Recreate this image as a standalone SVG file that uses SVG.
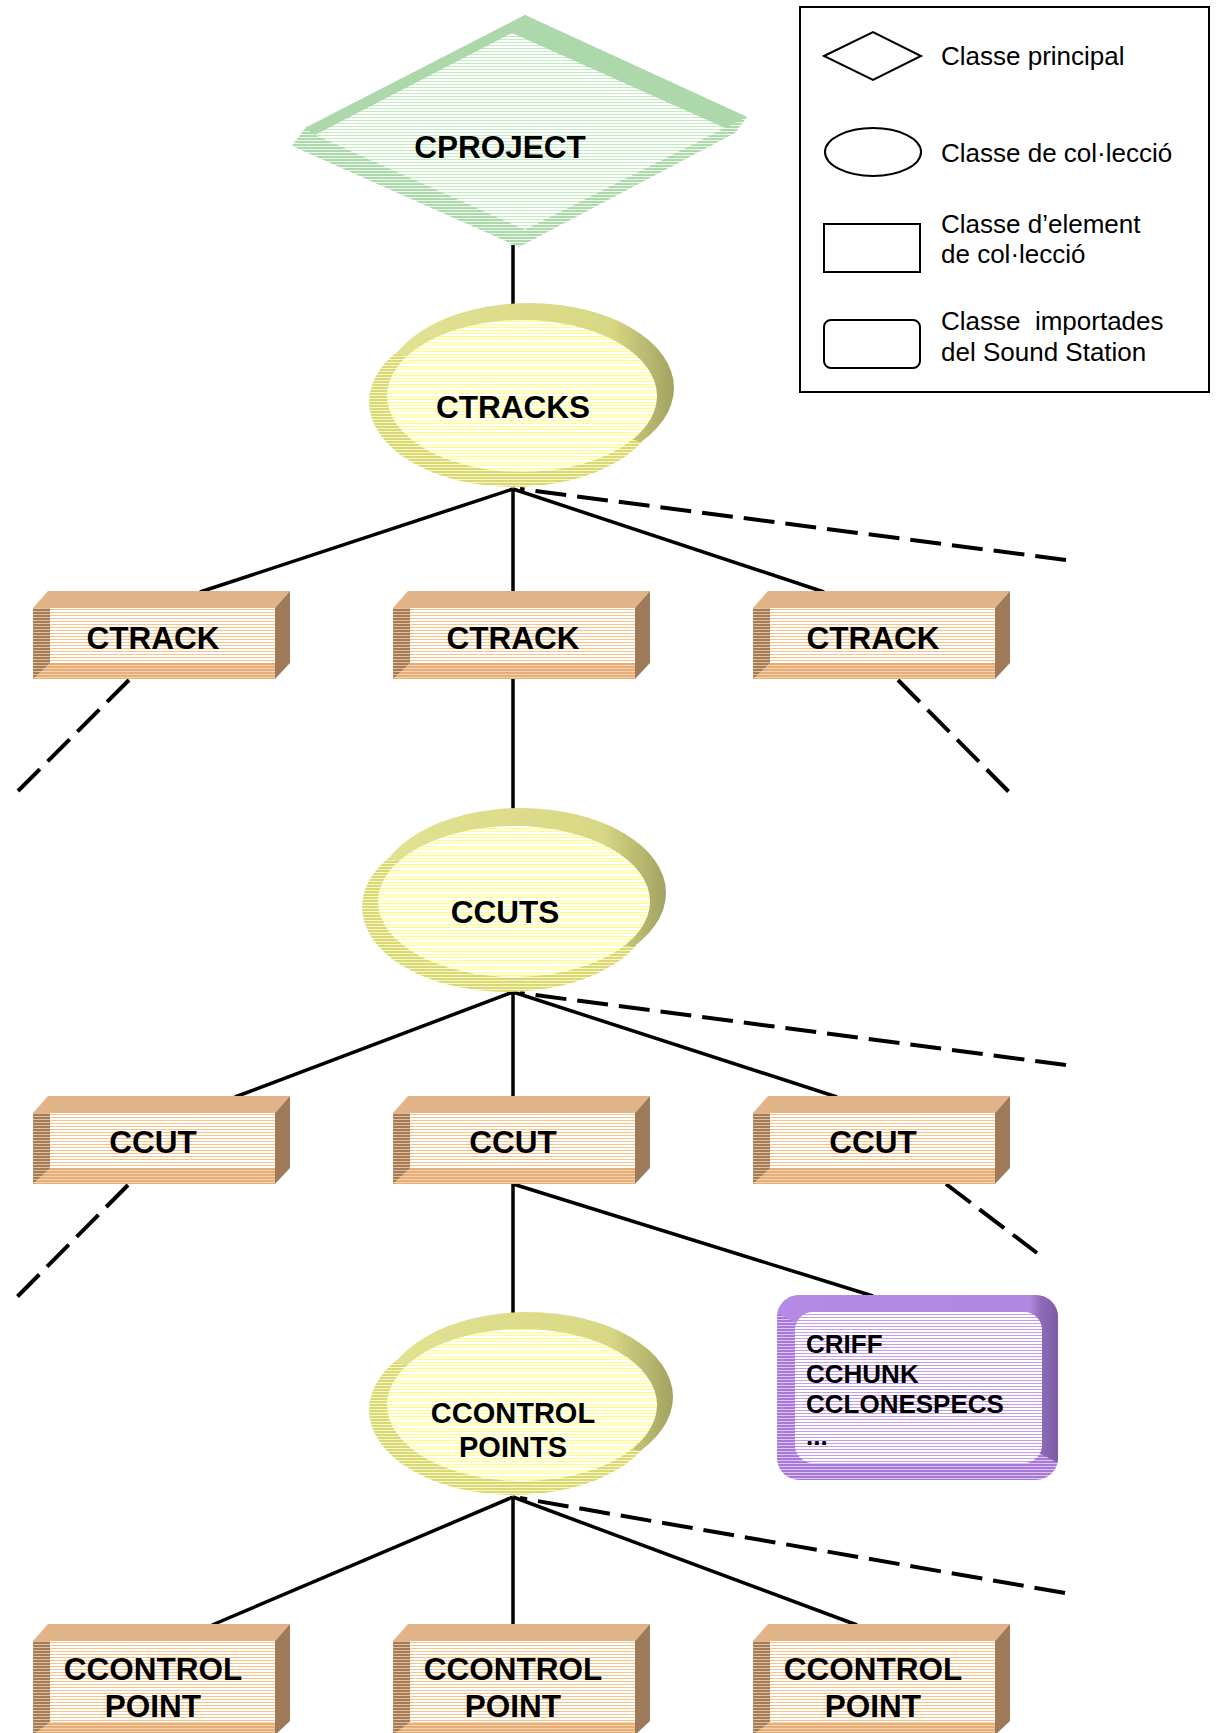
<svg xmlns="http://www.w3.org/2000/svg" width="1216" height="1733" viewBox="0 0 1216 1733">
<style>
.lbl{font-family:"Liberation Sans",Arial,sans-serif;font-weight:bold;font-size:31.5px;fill:#000;text-anchor:middle}
.lbl2{font-family:"Liberation Sans",Arial,sans-serif;font-weight:bold;font-size:29px;fill:#000;text-anchor:middle}
.crf{font-family:"Liberation Sans",Arial,sans-serif;font-weight:bold;font-size:26px;fill:#000}
.leg{font-family:"Liberation Sans",Arial,sans-serif;font-size:26px;fill:#000;white-space:pre}
.solid{stroke:#000;stroke-width:3.5;fill:none}
.dash{stroke:#000;stroke-width:4;fill:none;stroke-dasharray:31 11}
.lg{stroke:#000;stroke-width:2;fill:#fff}
</style>
<defs>
<pattern id="pTanFront" patternUnits="userSpaceOnUse" width="4" height="3"><rect width="4" height="3" fill="#fff"/><rect width="4" height="1.2" fill="#f8c288" shape-rendering="crispEdges"/></pattern>
<pattern id="pTanDark" patternUnits="userSpaceOnUse" width="4" height="3"><rect width="4" height="3" fill="#e6bc90"/><rect width="4" height="2" fill="#a07c5c" shape-rendering="crispEdges"/></pattern>
<pattern id="pTanBottom" patternUnits="userSpaceOnUse" width="4" height="3"><rect width="4" height="3" fill="#f6d2a8"/><rect width="4" height="2" fill="#e6ae7a" shape-rendering="crispEdges"/></pattern>
<pattern id="pYFront" patternUnits="userSpaceOnUse" width="4" height="3"><rect width="4" height="3" fill="#fff"/><rect width="4" height="1.2" fill="#ffff80" shape-rendering="crispEdges"/></pattern>
<pattern id="pYRim" patternUnits="userSpaceOnUse" width="4" height="3"><rect width="4" height="3" fill="#f8f8c0"/><rect width="4" height="2" fill="#d8d878" shape-rendering="crispEdges"/></pattern>
<pattern id="pGFront" patternUnits="userSpaceOnUse" width="4" height="3"><rect width="4" height="3" fill="#fff"/><rect width="4" height="1.2" fill="#c0ecc0" shape-rendering="crispEdges"/></pattern>
<pattern id="pGRim" patternUnits="userSpaceOnUse" width="4" height="3"><rect width="4" height="3" fill="#ecf8ec"/><rect width="4" height="2" fill="#acd8ac" shape-rendering="crispEdges"/></pattern>
<pattern id="pPFront" patternUnits="userSpaceOnUse" width="4" height="3"><rect width="4" height="3" fill="#fff"/><rect width="4" height="1.2" fill="#c49cf0" shape-rendering="crispEdges"/></pattern>
<pattern id="pPRim" patternUnits="userSpaceOnUse" width="4" height="3"><rect width="4" height="3" fill="#dcc4f4"/><rect width="4" height="2" fill="#a878d8" shape-rendering="crispEdges"/></pattern>
<linearGradient id="gYRim" x1="0" y1="0" x2="1" y2="0"><stop offset="0" stop-color="#e2e294"/><stop offset="0.78" stop-color="#d8d884"/><stop offset="1" stop-color="#a2a262"/></linearGradient>
<linearGradient id="gPRim" x1="0" y1="0" x2="1" y2="0"><stop offset="0" stop-color="#b48ae4"/><stop offset="0.9" stop-color="#b088e0"/><stop offset="0.94" stop-color="#8e6ab8"/><stop offset="1" stop-color="#7c5ca4"/></linearGradient>
<clipPath id="clipE" clipPathUnits="objectBoundingBox"><polygon points="0,0 1,0 1,0.891 0,0.266"/></clipPath>
<clipPath id="clipR" clipPathUnits="objectBoundingBox"><polygon points="0,0 1,0 1,0.908 0,0.096"/></clipPath>
<g id="box1">
<polygon points="0,17 15,0 257,0 242,17" fill="#e0b488"/>
<rect x="0" y="17" width="242" height="71" fill="url(#pTanFront)"/>
<rect x="0" y="17" width="17" height="71" fill="url(#pTanDark)"/>
<polygon points="0,88 17,72 242,72 242,88" fill="url(#pTanBottom)"/>
<polygon points="242,17 257,0 257,72 242,88" fill="#9c7a5a"/>
</g>
<g id="box2">
<polygon points="0,17 15,0 257,0 242,17" fill="#e0b488"/>
<rect x="0" y="17" width="242" height="94" fill="url(#pTanFront)"/>
<rect x="0" y="17" width="17" height="94" fill="url(#pTanDark)"/>
<polygon points="0,111 17,98 242,98 242,111" fill="url(#pTanBottom)"/>
<polygon points="242,17 257,0 257,97 242,111" fill="#9c7a5a"/>
</g>
</defs>
<rect width="1216" height="1733" fill="#fff"/>

<g id="connectors">
<line class="solid" x1="513" y1="245" x2="513" y2="306"/>
<line class="solid" x1="513" y1="489" x2="200" y2="592"/>
<line class="solid" x1="513" y1="489" x2="513" y2="592"/>
<line class="solid" x1="513" y1="489" x2="824" y2="592"/>
<line class="dash" x1="1066" y1="560" x2="520" y2="489"/>
<line class="dash" x1="129" y1="680" x2="18" y2="791"/>
<line class="dash" x1="898" y1="680" x2="1009" y2="792"/>
<line class="solid" x1="513" y1="679" x2="513" y2="810"/>
<line class="solid" x1="513" y1="992" x2="235" y2="1097"/>
<line class="solid" x1="513" y1="992" x2="513" y2="1097"/>
<line class="solid" x1="513" y1="992" x2="837" y2="1097"/>
<line class="dash" x1="1066" y1="1065" x2="520" y2="993"/>
<line class="dash" x1="128" y1="1185" x2="17" y2="1297"/>
<line class="dash" x1="946" y1="1184" x2="1037" y2="1253"/>
<line class="solid" x1="513" y1="1184" x2="513" y2="1314"/>
<line class="solid" x1="513" y1="1184" x2="873" y2="1296"/>
<line class="solid" x1="513" y1="1497" x2="212" y2="1625"/>
<line class="solid" x1="513" y1="1497" x2="513" y2="1625"/>
<line class="solid" x1="513" y1="1497" x2="857" y2="1625"/>
<line class="dash" x1="1065" y1="1593" x2="520" y2="1498"/>
</g>

<g id="cproject">
<polygon points="525,15 747,117 735,133 519,247 292,146 305,128" fill="url(#pGRim)"/>
<polygon points="305,128 525,15 747,117 725,128 512,33 315,135" fill="#acd8ac"/>
<polygon points="512,33 725,128 525,230 315,135" fill="url(#pGFront)"/>
<text class="lbl" x="500" y="158">CPROJECT</text>
</g>

<g id="ctracks">
<ellipse cx="514" cy="402" rx="145" ry="85" fill="url(#pYRim)"/>
<ellipse cx="529" cy="388" rx="145" ry="85" fill="url(#gYRim)" clip-path="url(#clipE)"/>
<ellipse cx="522" cy="396" rx="135" ry="76" fill="url(#pYFront)"/>
<text class="lbl" x="513" y="418">CTRACKS</text>
</g>

<g id="ctrack1"><use href="#box1" x="33" y="591"/><text class="lbl" x="153" y="649">CTRACK</text></g>
<g id="ctrack2"><use href="#box1" x="393" y="591"/><text class="lbl" x="513" y="649">CTRACK</text></g>
<g id="ctrack3"><use href="#box1" x="753" y="591"/><text class="lbl" x="873" y="649">CTRACK</text></g>

<g id="ccuts">
<ellipse cx="507" cy="907" rx="145" ry="85" fill="url(#pYRim)"/>
<ellipse cx="521" cy="893" rx="145" ry="85" fill="url(#gYRim)" clip-path="url(#clipE)"/>
<ellipse cx="514" cy="901.5" rx="136" ry="75.5" fill="url(#pYFront)"/>
<text class="lbl" x="505" y="923">CCUTS</text>
</g>

<g id="ccut1"><use href="#box1" x="33" y="1096"/><text class="lbl" x="153" y="1153">CCUT</text></g>
<g id="ccut2"><use href="#box1" x="393" y="1096"/><text class="lbl" x="513" y="1153">CCUT</text></g>
<g id="ccut3"><use href="#box1" x="753" y="1096"/><text class="lbl" x="873" y="1153">CCUT</text></g>

<g id="ccontrolpoints">
<ellipse cx="514" cy="1410" rx="145" ry="85" fill="url(#pYRim)"/>
<ellipse cx="528" cy="1397" rx="145" ry="85" fill="url(#gYRim)" clip-path="url(#clipE)"/>
<ellipse cx="522" cy="1405" rx="135" ry="76" fill="url(#pYFront)"/>
<text class="lbl2" x="513" y="1423">CCONTROL</text>
<text class="lbl2" x="513" y="1457">POINTS</text>
</g>

<g id="criff">
<rect x="777" y="1295" width="281" height="185" rx="22" fill="url(#pPRim)"/>
<rect x="777" y="1295" width="281" height="185" rx="22" fill="url(#gPRim)" clip-path="url(#clipR)"/>
<rect x="795" y="1312" width="247" height="151" rx="18" fill="url(#pPFront)"/>
<text class="crf" x="806" y="1353">CRIFF</text>
<text class="crf" x="806" y="1383">CCHUNK</text>
<text class="crf" x="806" y="1413">CCLONESPECS</text>
<text class="crf" x="806" y="1445">...</text>
</g>

<g id="ccontrolpoint1"><use href="#box2" x="33" y="1624"/><text class="lbl" x="153" y="1680">CCONTROL</text><text class="lbl" x="153" y="1717">POINT</text></g>
<g id="ccontrolpoint2"><use href="#box2" x="393" y="1624"/><text class="lbl" x="513" y="1680">CCONTROL</text><text class="lbl" x="513" y="1717">POINT</text></g>
<g id="ccontrolpoint3"><use href="#box2" x="753" y="1624"/><text class="lbl" x="873" y="1680">CCONTROL</text><text class="lbl" x="873" y="1717">POINT</text></g>

<g id="legend">
<rect x="800" y="7" width="409" height="385" fill="#fff" stroke="#000" stroke-width="2"/>
<polygon class="lg" points="824,56 873,32 921,56 873,80"/>
<text class="leg" x="941" y="65">Classe principal</text>
<ellipse class="lg" cx="873" cy="152" rx="48" ry="24"/>
<text class="leg" x="941" y="162">Classe de col·lecció</text>
<rect class="lg" x="824" y="224" width="96" height="48"/>
<text class="leg" x="941" y="233">Classe d’element</text>
<text class="leg" x="941" y="263">de col·lecció</text>
<rect class="lg" x="824" y="320" width="96" height="48" rx="7"/>
<text class="leg" x="941" y="330">Classe  importades</text>
<text class="leg" x="941" y="361">del Sound Station</text>
</g>
</svg>
